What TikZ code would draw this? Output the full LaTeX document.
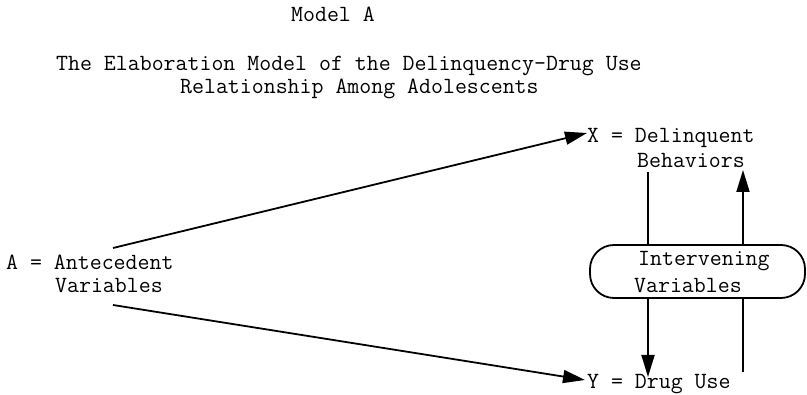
\documentclass[tikz,border=0pt]{standalone}
\usetikzlibrary{arrows.meta}
\begin{document}
\begin{tikzpicture}[x=1pt,y=-1pt,
  txt/.style={font=\ttfamily\fontsize{23.2}{24}\selectfont, inner sep=0pt, anchor=base west},
  conn/.style={line width=1.8pt},
  arr/.style={conn,-{Triangle[length=22pt,width=13pt]}},
  ivbox/.style={draw, line width=1.8pt, rounded corners=24pt, minimum width=215pt, minimum height=53pt, inner sep=0pt}]
\useasboundingbox (0,0) rectangle (807,395);
% titles
\node[txt] (M) at (291,22) {Model A};
\node[txt] (T1) at (56,71) {The Elaboration Model of the Delinquency-Drug Use};
\node[txt] (T2) at (180,94) {Relationship Among Adolescents};
% antecedent
\node[txt] (A1) at (6,270) {A = Antecedent};
\node[txt] (A2) at (55,293) {Variables};
% X
\node[txt] (X1) at (587,143) {X = Delinquent};
\node[txt] (X2) at (637,168) {Behaviors};
% intervening box
\node[ivbox] (IV) at (697.5,271.5) {};
\node[txt] (I1) at (638,266) {Intervening};
\node[txt] (I2) at (634,293) {Variables};
% Y
\node[txt] (Y1) at (587,389) {Y = Drug Use};
% connector coordinates
\coordinate (aUp) at (113,248);
\coordinate (aDn) at (113,305);
\coordinate (xTip) at (587,133);
\coordinate (yTip) at (585,380);
\coordinate (cL) at (648,0);
\coordinate (cR) at (743,0);
\coordinate (behB) at (648,172);
\coordinate (behR) at (743,170);
\coordinate (yTopL) at (648,377);
\coordinate (yTopR) at (743,372);
% connectors
\draw[arr] (aUp) -- (xTip);
\draw[arr] (aDn) -- (yTip);
\draw[conn] (behB) -- (IV.north -| cL);
\draw[arr] (IV.north -| cR) -- (behR);
\draw[arr] (IV.south -| cL) -- (yTopL);
\draw[conn] (IV.south -| cR) -- (yTopR);
\end{tikzpicture}
\end{document}
